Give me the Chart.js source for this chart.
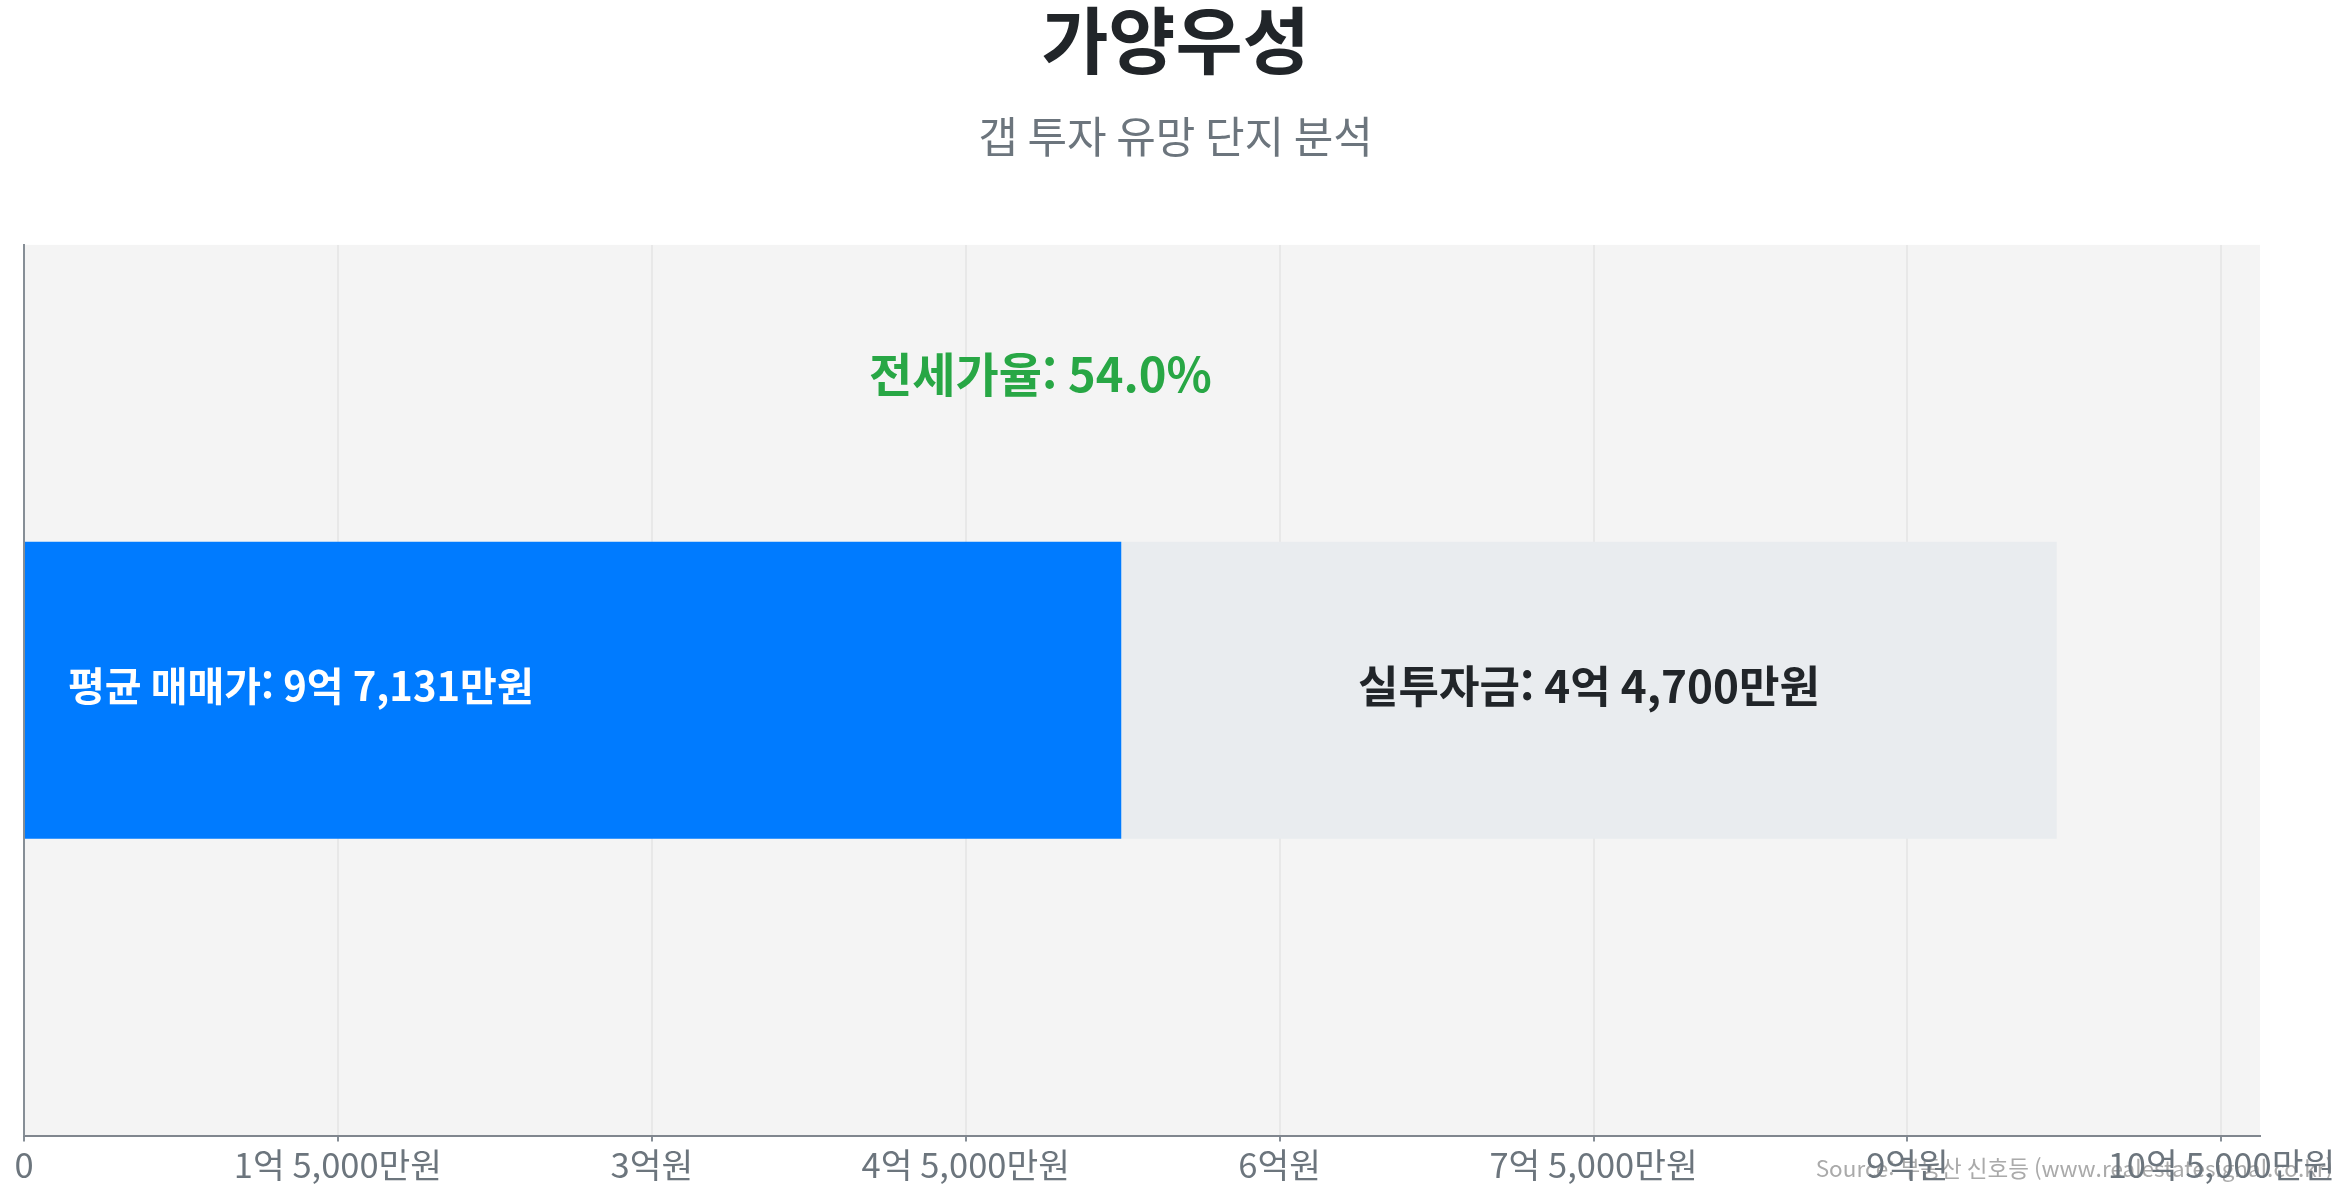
<!DOCTYPE html>
<html lang="ko">
<head>
<meta charset="utf-8">
<title>가양우성</title>
<script src="https://cdn.jsdelivr.net/npm/chart.js@4/dist/chart.umd.min.js"></script>
<style>
  html, body { margin: 0; padding: 0; background: #ffffff; }
  #wrap { width: 2351px; height: 1200px; position: relative; }
</style>
</head>
<body>
<div id="wrap"><canvas id="c"></canvas></div>
<script>
// ---- data ----
const complexName = '가양우성';
const subtitleText = '갭 투자 유망 단지 분석';
const categories = ['가양우성'];
const salePrice = [971310000];        // 평균 매매가 9억 7,131만원
const investment = [447000000];       // 실투자금 4억 4,700만원
const jeonsePrice = [524310000];      // 전세가 (매매가 - 실투자금)
const tickValues = [0, 150000000, 300000000, 450000000, 600000000, 750000000, 900000000, 1050000000];
const axisMax = 1068441000;           // 매매가 × 1.1
const sourceText = 'Source: 부동산 신호등 (www.realestatesignal.co.kr)';

const FONT = '"Noto Sans CJK KR", "Noto Sans", sans-serif';

function formatKRW(v) {
  if (v === 0) return '0';
  const eok = Math.floor(v / 100000000);
  const man = Math.round((v % 100000000) / 10000);
  if (eok > 0 && man === 0) return eok + '억원';
  if (eok > 0) return eok + '억 ' + man.toLocaleString('ko-KR') + '만원';
  return man.toLocaleString('ko-KR') + '만원';
}

const areaBg = {
  id: 'areaBg',
  beforeDraw(chart) {
    const {ctx, chartArea: a, width} = chart;
    ctx.save();
    ctx.fillStyle = '#f4f4f4';
    ctx.fillRect(a.left, a.top, a.right - a.left, a.bottom - a.top);
    // source note (drawn beneath the tick labels)
    ctx.font = '22.5px ' + FONT;
    ctx.fillStyle = '#aaaaaa';
    ctx.textAlign = 'right';
    ctx.textBaseline = 'middle';
    ctx.fillText(sourceText, width - 18, 1168);
    ctx.restore();
  }
};

const barLabels = {
  id: 'barLabels',
  afterDatasetsDraw(chart) {
    const {ctx} = chart;
    const b0 = chart.getDatasetMeta(0).data[0];
    const b1 = chart.getDatasetMeta(1).data[0];
    const xs = chart.scales.x;
    ctx.save();
    ctx.textBaseline = 'middle';
    // blue bar label
    ctx.font = 'bold 40px ' + FONT;
    ctx.fillStyle = '#ffffff';
    ctx.textAlign = 'left';
    ctx.fillText('평균 매매가: ' + formatKRW(salePrice[0]), b0.base + 43, b0.y - 4);
    // gray bar label
    ctx.font = 'bold 44px ' + FONT;
    ctx.fillStyle = '#212529';
    ctx.textAlign = 'center';
    ctx.fillText('실투자금: ' + formatKRW(investment[0]), (b1.base + b1.x) / 2, b1.y - 4);
    // jeonse ratio
    const ratio = (jeonsePrice[0] / salePrice[0] * 100).toFixed(1);
    ctx.font = 'bold 47px ' + FONT;
    ctx.fillStyle = '#28a745';
    ctx.fillText('전세가율: ' + ratio + '%', xs.getPixelForValue(salePrice[0] / 2), b0.y - b0.height / 2 - 168);
    ctx.restore();
  }
};

new Chart(document.getElementById('c'), {
  type: 'bar',
  data: {
    labels: categories,
    datasets: [
      { label: '전세가', data: jeonsePrice, backgroundColor: '#007bff', borderWidth: 0 },
      { label: '실투자금', data: investment, backgroundColor: '#e9ecef', borderWidth: 0 }
    ]
  },
  options: {
    indexAxis: 'y',
    responsive: true,
    maintainAspectRatio: false,
    animation: false,
    categoryPercentage: 1,
    barPercentage: 1 / 3,
    layout: { padding: { top: 0, left: 24, right: 24, bottom: 11 } },
    plugins: {
      legend: { display: false },
      tooltip: { enabled: false },
      title: {
        display: true,
        text: complexName,
        color: '#212529',
        font: { family: FONT, size: 73, weight: 'bold', lineHeight: 1.1 },
        padding: { top: 0, bottom: 31 }
      },
      subtitle: {
        display: true,
        text: subtitleText,
        color: '#6c757d',
        font: { family: FONT, size: 43, weight: 'normal', lineHeight: 1.2 },
        padding: { top: 0, bottom: 82 }
      }
    },
    scales: {
      x: {
        stacked: true,
        min: 0,
        max: axisMax,
        afterBuildTicks(scale) { scale.ticks = tickValues.map(v => ({ value: v })); },
        afterFit(scale) { scale.paddingRight = 91; },
        ticks: {
          color: '#6c757d',
          font: { family: FONT, size: 34.5 },
          padding: 3,
          maxRotation: 0,
          autoSkip: false,
          callback: (v) => formatKRW(v)
        },
        grid: { color: '#e8e8e8', lineWidth: 2, tickLength: 6, tickColor: '#868e96' },
        border: { display: true, color: '#80868e', width: 2 }
      },
      y: {
        stacked: true,
        ticks: { display: false },
        grid: { display: false, drawTicks: false },
        border: { display: true, color: '#868e96', width: 2 }
      }
    }
  },
  plugins: [areaBg, barLabels]
});
</script>
</body>
</html>
